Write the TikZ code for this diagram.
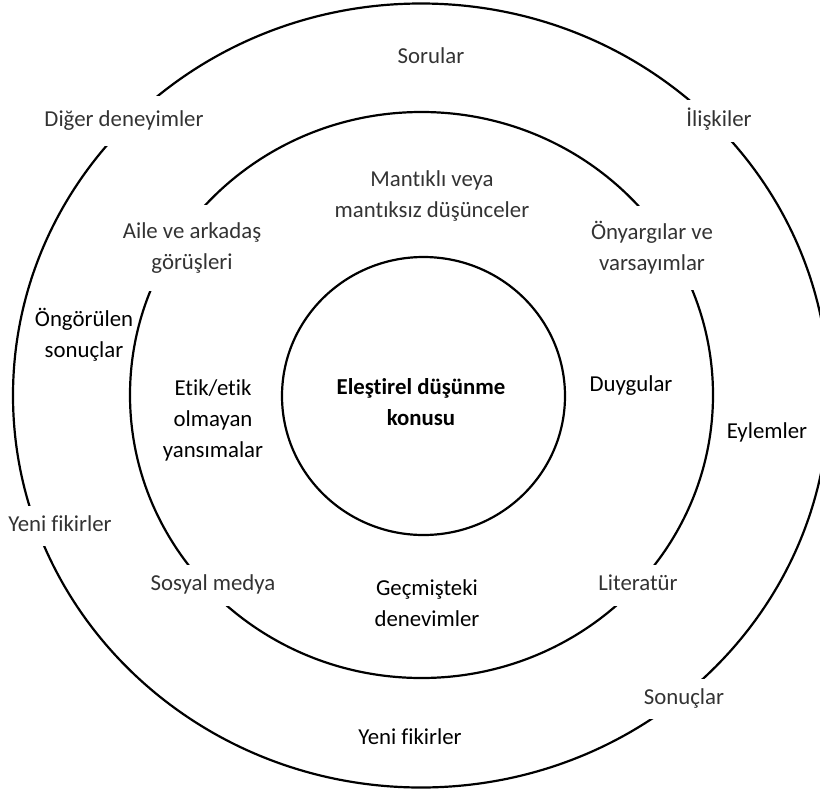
\documentclass[tikz,border=0pt]{standalone}
\usepackage{fontspec}
\setmainfont{Carlito}[Ligatures={NoCommon}]
\definecolor{labelgray}{HTML}{333333}
\definecolor{labeldark}{HTML}{000000}
\begin{document}
\begin{tikzpicture}[x=1pt,y=-1pt,
  ring/.style={line width=2.2pt, draw=black},
  lbl/.style={font=\fontsize{22.8}{31}\selectfont, align=center, text=labelgray, inner xsep=3pt, inner ysep=0pt},
  one/.style={text height=16pt, text depth=5pt},
  dark/.style={text=labeldark},
  knock/.style={fill=white, minimum height=#1}]
  \useasboundingbox (0,0) rectangle (820,793);
  \clip (0,0) rectangle (820,793);

  % three rings
  \draw[ring] (421,395.5) ellipse [x radius=408pt, y radius=392pt];
  \draw[ring] (421.5,395) ellipse [x radius=291.5pt, y radius=283pt];
  \draw[ring] (423.5,396) ellipse [x radius=141.5pt, y radius=139pt];

  % centre
  \node[lbl, dark, font=\fontsize{22.8}{31}\selectfont\bfseries] (topic) at (421,402) {Eleştirel düşünme\\konusu};

  % inner ring
  \node[lbl] (mantik) at (432,196) {Mantıklı veya\\mantıksız düşünceler};
  \node[lbl, knock=86pt] (aile) at (192,248) {Aile ve arkadaş\\görüşleri};
  \node[lbl, knock=84pt] (onyargi) at (652,248) {Önyargılar ve\\varsayımlar};
  \node[lbl, dark] (etik) at (213,420) {Etik/etik\\olmayan\\yansımalar};
  \node[lbl, one, dark] (duygu) at (631,386) {Duygular};
  \node[lbl, one, knock=41pt] (sosyal) at (213,585) {Sosyal medya};
  \node[lbl, one, knock=41pt] (literatur) at (638,585) {Literatür};
  \node[lbl, dark] (gecmis) at (427,603) {Geçmişteki\\denevimler};

  % outer ring
  \node[lbl, one] (sorular) at (431,58) {Sorular};
  \node[lbl, one, knock=50pt] (diger) at (124,121) {Diğer deneyimler};
  \node[lbl, one, knock=42pt] (iliski) at (719,121) {İlişkiler};
  \node[lbl, dark] (ongoru) at (84,335) {Öngörülen\\sonuçlar};
  \node[lbl, one, dark] (eylem) at (767,433) {Eylemler};
  \node[lbl, one, knock=40pt] (yeni1) at (60,526) {Yeni fikirler};
  \node[lbl, one, knock=40pt] (sonuc) at (684,699) {Sonuçlar};
  \node[lbl, one, dark] (yeni2) at (410,739) {Yeni fikirler};
\end{tikzpicture}
\end{document}
